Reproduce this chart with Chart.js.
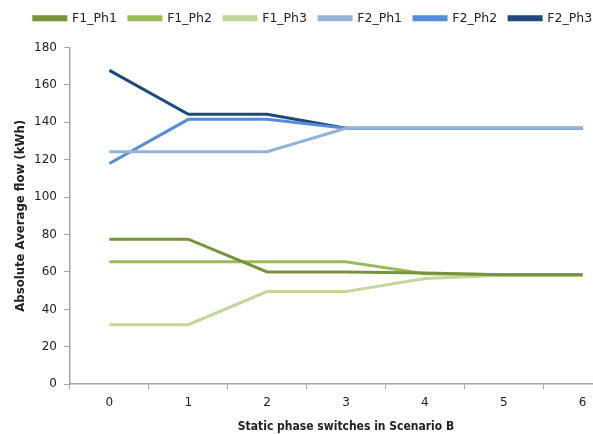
<!DOCTYPE html>
<html>
<head>
<meta charset="utf-8">
<script src="https://cdn.jsdelivr.net/npm/chart.js@4/dist/chart.umd.min.js"></script>
<style>
  html, body { margin: 0; padding: 0; background: #fff; overflow: hidden; }
  #wrap { width: 622px; height: 434px; }
</style>
</head>
<body>
<div id="wrap"><canvas id="chart"></canvas></div>
<script>
// x categories (number of static phase switches)
const switches = ['0', '1', '2', '3', '4', '5', '6'];

// absolute average flow (kWh)
const f1Ph1 = [77.5, 77.5, 60, 60, 59.5, 58.5, 58.5];
const f1Ph2 = [65.5, 65.5, 65.5, 65.5, 59, 58.5, 58.5];
const f1Ph3 = [31.8, 31.8, 49.5, 49.5, 56.5, 58.2, 58.2];
const f2Ph1 = [124.3, 124.3, 124.3, 136.8, 136.8, 136.8, 136.8];
const f2Ph2 = [118, 141.6, 141.6, 136.8, 136.8, 136.8, 136.8];
const f2Ph3 = [167.8, 144.3, 144.3, 136.8, 136.8, 136.8, 136.8];

const yTicks = [0, 20, 40, 60, 80, 100, 120, 140, 160, 180];

const series = [
  { label: 'F1_Ph1', data: f1Ph1, color: '#77933C' },
  { label: 'F1_Ph2', data: f1Ph2, color: '#9BBB59' },
  { label: 'F1_Ph3', data: f1Ph3, color: '#C3D69B' },
  { label: 'F2_Ph1', data: f2Ph1, color: '#95B3D7' },
  { label: 'F2_Ph2', data: f2Ph2, color: '#558ED5' },
  { label: 'F2_Ph3', data: f2Ph3, color: '#1F497D' }
];

const font = { family: 'DejaVu Sans', size: 12 };
const titleFont = { family: 'DejaVu Sans Condensed', weight: 'bold' };
const axisColor = '#A6A6A6';

// push the plot down a bit below the legend
const legendGap = {
  id: 'legendGap',
  beforeInit(chart) {
    const fit = chart.legend.fit;
    chart.legend.fit = function () {
      fit.bind(chart.legend)();
      this.height += 13;
    };
  }
};

new Chart(document.getElementById('chart'), {
  type: 'line',
  data: {
    labels: switches,
    datasets: series.map(s => ({
      label: s.label,
      data: s.data,
      borderColor: s.color,
      backgroundColor: s.color,
      borderWidth: 3,
      pointRadius: 0,
      tension: 0,
      fill: false
    }))
  },
  plugins: [legendGap],
  options: {
    responsive: true,
    maintainAspectRatio: false,
    animation: false,
    layout: { padding: { left: 4, right: 0, top: 0, bottom: 0 } },
    plugins: {
      legend: {
        position: 'top',
        labels: {
          boxWidth: 32,
          boxHeight: 3,
          padding: 12,
          color: '#222',
          font: { family: 'DejaVu Sans', size: 12.5 }
        }
      },
      tooltip: { enabled: false }
    },
    scales: {
      x: {
        type: 'category',
        offset: true,
        grid: { offset: true, drawOnChartArea: false, tickLength: 5, color: axisColor },
        border: { color: axisColor, width: 1.5 },
        ticks: { color: '#222', font: font, padding: 6, maxRotation: 0 },
        title: {
          display: true,
          text: 'Static phase switches in Scenario B',
          color: '#222',
          font: { ...titleFont, size: 12 },
          padding: { top: 4, bottom: 0 }
        }
      },
      y: {
        min: 0,
        max: 180,
        afterBuildTicks: axis => { axis.ticks = yTicks.map(v => ({ value: v })); },
        afterFit: axis => { axis.width = 66; },
        grid: { drawOnChartArea: false, tickLength: 6, color: axisColor },
        border: { color: axisColor, width: 1.5 },
        ticks: { color: '#222', font: font, padding: 7 },
        title: {
          display: true,
          text: 'Absolute Average flow (kWh)',
          color: '#222',
          font: { ...titleFont, size: 13 },
          padding: { top: 9, bottom: 4 }
        }
      }
    }
  }
});
</script>
</body>
</html>
